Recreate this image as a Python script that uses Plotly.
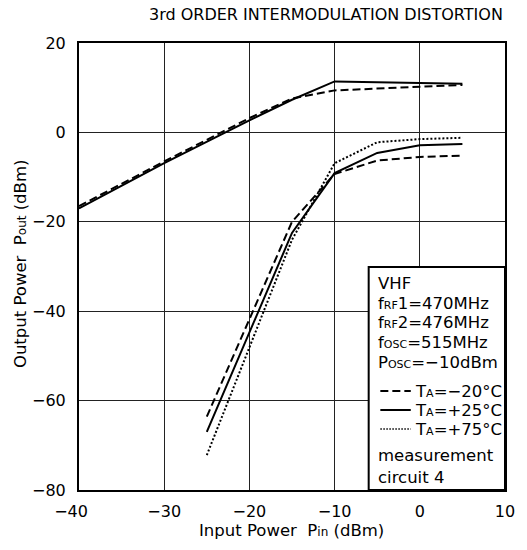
import plotly.graph_objects as go

# Fundamental output (upper curves)
pin_fund_25 = [-40, -30, -20, -15, -10, 5]
pout_fund_25 = [-17.0, -6.9, 2.7, 7.3, 11.4, 10.9]
pin_fund_m20 = [-40, -30, -20, -15, -10, 5]
pout_fund_m20 = [-16.5, -6.5, 3.2, 7.6, 9.4, 10.6]

# 3rd order IM (lower curves)
pin_im3 = [-25, -15, -10, -5, 0, 5]
im3_m20 = [-63.6, -20.0, -9.3, -6.3, -5.5, -5.2]
im3_25 = [-67.0, -22.5, -9.1, -4.6, -2.9, -2.6]
im3_75 = [-72.2, -24.0, -6.9, -2.2, -1.5, -1.2]

x_ticks = [-40, -30, -20, -10, 0, 10]
x_tick_labels = ["\u221240\u2003", "\u221230", "\u221220", "\u221210", "0", "10"]
y_ticks = [-80, -60, -40, -20, 0, 20]

def sub(s, size=11):
    return "<span style='font-size:%dpx'>%s</span>" % (size, s)

legend_lines = ["VHF", "f" + sub("RF") + "1=470MHz", "f" + sub("RF") + "2=476MHz",
                "f" + sub("OSC") + "=515MHz", "P" + sub("OSC") + "=\u221210dBm"]
temp_labels = ["T" + sub("A") + "=\u221220\u00b0C", "T" + sub("A") + "=+25\u00b0C",
               "T" + sub("A") + "=+75\u00b0C"]
foot_lines = ["measurement", "circuit 4"]

FONT = "DejaVu Sans, Arial, sans-serif"
DASH = "8px,4px"
DOT = "2px,2px"
FS_TICK = 16
FS_LEG = 16.5
FS_TITLE = 16
FS_AXT = 16.5

fig = go.Figure()
fig.add_trace(go.Scatter(x=pin_fund_25, y=pout_fund_25, mode="lines",
                         line=dict(color="black", width=2)))
fig.add_trace(go.Scatter(x=pin_fund_m20, y=pout_fund_m20, mode="lines",
                         line=dict(color="black", width=2, dash=DASH)))
fig.add_trace(go.Scatter(x=pin_im3, y=im3_m20, mode="lines",
                         line=dict(color="black", width=2, dash=DASH)))
fig.add_trace(go.Scatter(x=pin_im3, y=im3_25, mode="lines",
                         line=dict(color="black", width=2)))
fig.add_trace(go.Scatter(x=pin_im3, y=im3_75, mode="lines",
                         line=dict(color="black", width=2, dash=DOT)))

# Legend box
fig.add_shape(type="rect", xref="paper", yref="paper", x0=0.680, x1=1, y0=0, y1=0.499,
              line=dict(color="black", width=2), fillcolor="white", layer="above")

def py(px):
    return (490 - px) / 447

def px_(x):
    return (x - 79) / 434

tx = px_(382)
ys = [283, 303, 322, 342, 363]
for t, yy in zip(legend_lines, ys):
    fig.add_annotation(text=t, xref="paper", yref="paper", x=tx, y=py(yy),
                       xanchor="left", yanchor="middle", showarrow=False,
                       font=dict(family=FONT, size=FS_LEG, color="black"))
ys2 = [391, 410, 429]
dashes = [DASH, "solid", "1.5px,1.5px"]
widths = [2, 2, 1.5]
for t, yy, d, w in zip(temp_labels, ys2, dashes, widths):
    fig.add_shape(type="line", xref="paper", yref="paper", x0=px_(386), x1=px_(417),
                  y0=py(yy), y1=py(yy), line=dict(color="black", width=w, dash=d), layer="above")
    fig.add_annotation(text=t, xref="paper", yref="paper", x=px_(419), y=py(yy),
                       xanchor="left", yanchor="middle", showarrow=False,
                       font=dict(family=FONT, size=FS_LEG, color="black"))
ys3 = [455, 477]
for t, yy in zip(foot_lines, ys3):
    fig.add_annotation(text=t, xref="paper", yref="paper", x=tx, y=py(yy),
                       xanchor="left", yanchor="middle", showarrow=False,
                       font=dict(family=FONT, size=FS_LEG, color="black"))

# Title
fig.add_annotation(text="3rd ORDER INTERMODULATION DISTORTION", xref="paper", yref="paper",
                   x=px_(513), y=py(15), xanchor="right", yanchor="middle",
                   showarrow=False, font=dict(family=FONT, size=FS_TITLE, color="black"))
# Axis titles
fig.add_annotation(text="Input Power\u00a0\u00a0P" + sub("in", 12) + " (dBm)", xref="paper", yref="paper",
                   x=px_(295), y=py(530), xanchor="center", yanchor="middle",
                   showarrow=False, font=dict(family=FONT, size=FS_AXT, color="black"))
fig.add_annotation(text="Output Power\u00a0\u00a0P" + sub("out", 12) + " (dBm)", xref="paper", yref="paper",
                   x=px_(19), y=py(264), xanchor="center", yanchor="middle", textangle=-90,
                   showarrow=False, font=dict(family=FONT, size=FS_AXT, color="black"))

fig.update_xaxes(range=[-40, 10], tickvals=x_ticks, ticktext=x_tick_labels, showgrid=True,
                 gridcolor="#222", gridwidth=1,
                 zeroline=False, showline=True, mirror=True, linecolor="black", linewidth=2,
                 ticks="", ticklabelstandoff=6, tickfont=dict(family=FONT, size=FS_TICK, color="black"))
fig.update_yaxes(range=[-80, 20], tickvals=y_ticks, showgrid=True, gridcolor="#222", gridwidth=1,
                 zeroline=False, showline=True, mirror=True, linecolor="black", linewidth=2,
                 ticks="", ticklabelstandoff=8, tickfont=dict(family=FONT, size=FS_TICK, color="black"))

fig.update_layout(width=527, height=550, margin=dict(l=79, r=14, t=43, b=60),
                  plot_bgcolor="white", paper_bgcolor="white", showlegend=False,
                  font=dict(family=FONT, color="black"))

fig.write_html("out.html")
